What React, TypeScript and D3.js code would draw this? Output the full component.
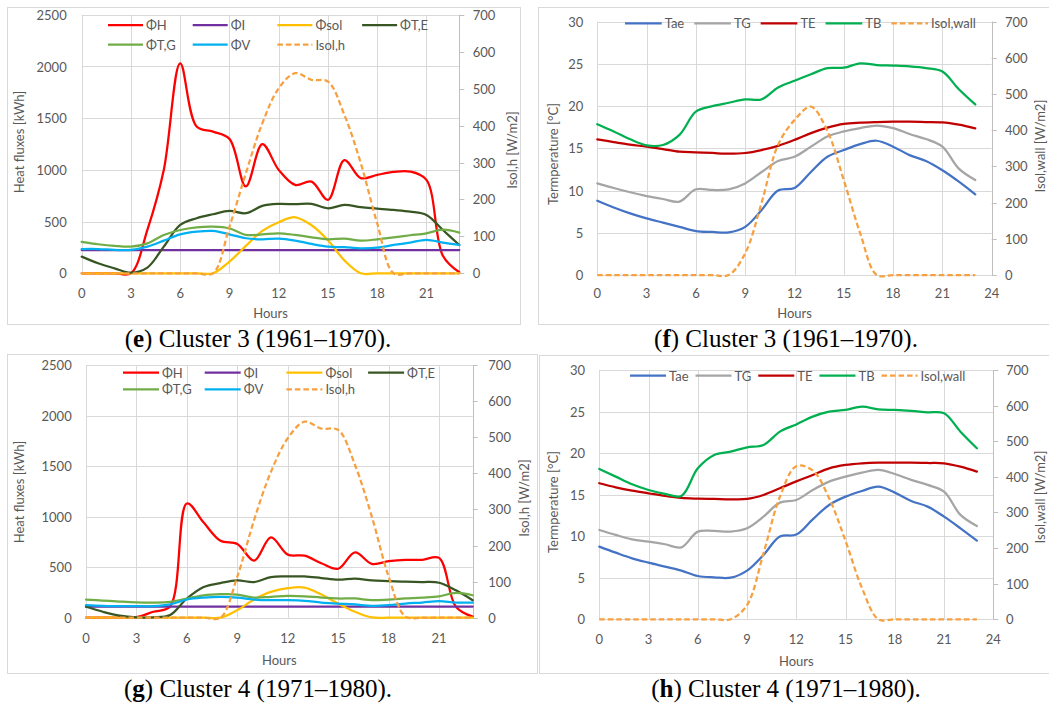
import React from 'react';
import * as d3 from 'd3';

// Hour of day for every series point
const HOURS = [0, 1, 2, 3, 4, 5, 6, 7, 8, 9, 10, 11, 12, 13, 14, 15, 16, 17, 18, 19, 20, 21, 22, 23];

// Cluster 3 (1961–1970): heat fluxes [kWh] and horizontal irradiance [W/m2]
const C3_PHI_H = [0, 0, 0, 0, 420, 1000, 2030, 1420, 1370, 1300, 840, 1250, 1000, 855, 887, 710, 1095, 920, 952, 980, 984, 903, 170, 10];
const C3_PHI_I = [225, 225, 225, 225, 225, 225, 225, 225, 225, 225, 225, 225, 225, 225, 225, 225, 225, 225, 225, 225, 225, 225, 225, 225];
const C3_PHI_SOL = [0, 0, 0, 0, 0, 0, 0, 0, 0, 113, 265, 410, 494, 542, 465, 320, 125, 0, 0, 0, 0, 0, 0, 0];
const C3_PHI_TE = [161, 97, 48, 6, 55, 258, 468, 532, 571, 603, 581, 652, 671, 668, 671, 629, 661, 639, 626, 613, 597, 565, 419, 274];
const C3_PHI_TG = [303, 281, 265, 258, 290, 371, 419, 445, 452, 435, 371, 377, 387, 371, 348, 329, 335, 316, 329, 348, 368, 387, 422, 394];
const C3_PHI_V = [235, 235, 226, 226, 258, 316, 377, 403, 410, 377, 339, 329, 335, 316, 284, 258, 252, 242, 248, 274, 297, 323, 297, 274];
const C3_ISOL_H = [0, 0, 0, 0, 0, 0, 0, 0, 0, 126, 271, 406, 501, 542, 524, 519, 429, 298, 135, 0, 0, 0, 0, 0];

// Cluster 3 (1961–1970): temperatures [°C] and wall irradiance [W/m2]
const C3_TAE = [8.8, 8.0, 7.3, 6.7, 6.2, 5.7, 5.2, 5.1, 5.05, 5.7, 7.7, 10.0, 10.3, 12.2, 14.0, 14.8, 15.5, 15.9, 15.2, 14.2, 13.5, 12.4, 11.05, 9.55];
const C3_TG = [10.85, 10.3, 9.8, 9.35, 9.0, 8.7, 10.15, 10.07, 10.15, 10.85, 12.2, 13.5, 14.0, 15.2, 16.4, 17.0, 17.4, 17.7, 17.4, 16.7, 16.1, 15.2, 12.6, 11.25];
const C3_TE = [16.07, 15.75, 15.44, 15.2, 14.92, 14.6, 14.53, 14.45, 14.37, 14.45, 14.8, 15.3, 16.0, 16.8, 17.45, 17.9, 18.05, 18.12, 18.16, 18.16, 18.12, 18.08, 17.8, 17.37];
const C3_TB = [17.85, 17.0, 16.07, 15.36, 15.4, 16.6, 19.35, 20.0, 20.4, 20.8, 20.8, 22.2, 23.0, 23.77, 24.5, 24.55, 25.07, 24.87, 24.8, 24.7, 24.5, 24.1, 22.0, 20.2];
const C3_ISOL_WALL = [0, 0, 0, 0, 0, 0, 0, 0, 0, 60, 200, 360, 428, 465, 398, 262, 115, 0, 0, 0, 0, 0, 0, 0];

// Cluster 4 (1971–1980): heat fluxes [kWh] and horizontal irradiance [W/m2]
const C4_PHI_H = [0, 0, 0, 5, 59, 110, 1130, 941, 761, 729, 565, 794, 624, 614, 539, 484, 647, 533, 559, 572, 572, 592, 108, 10];
const C4_PHI_I = [110, 110, 110, 110, 110, 110, 110, 110, 110, 110, 110, 110, 110, 110, 110, 110, 110, 110, 110, 110, 110, 110, 110, 110];
const C4_PHI_SOL = [0, 0, 0, 0, 0, 0, 0, 0, 0, 75, 180, 255, 292, 298, 229, 140, 59, 3, 0, 0, 0, 0, 0, 0];
const C4_PHI_TE = [108, 59, 20, 3, 3, 26, 190, 304, 343, 369, 353, 402, 408, 408, 392, 376, 386, 369, 363, 356, 353, 346, 271, 173];
const C4_PHI_TG = [180, 170, 160, 152, 150, 157, 190, 222, 232, 229, 199, 206, 216, 212, 199, 190, 190, 173, 180, 190, 199, 212, 245, 222];
const C4_PHI_V = [124, 118, 114, 114, 114, 131, 180, 199, 206, 199, 180, 173, 173, 167, 150, 140, 131, 118, 124, 140, 150, 163, 150, 150];
const C4_ISOL_H = [0, 0, 0, 0, 0, 0, 0, 0, 0, 114, 271, 404, 497, 543, 524, 520, 423, 280, 114, 3, 0, 0, 0, 0];

// Cluster 4 (1971–1980): temperatures [°C] and wall irradiance [W/m2]
const C4_TAE = [8.74, 8.02, 7.34, 6.82, 6.34, 5.86, 5.21, 5.05, 5.01, 5.86, 7.74, 9.95, 10.2, 12.03, 13.76, 14.76, 15.44, 15.96, 15.24, 14.24, 13.56, 12.35, 10.95, 9.47];
const C4_TG = [10.75, 10.15, 9.63, 9.35, 9.03, 8.66, 10.55, 10.63, 10.55, 10.95, 12.35, 14.04, 14.36, 15.56, 16.57, 17.17, 17.65, 17.97, 17.49, 16.77, 16.17, 15.36, 12.56, 11.23];
const C4_TE = [16.37, 15.88, 15.48, 15.16, 14.84, 14.6, 14.52, 14.48, 14.44, 14.48, 14.96, 15.76, 16.6, 17.37, 18.17, 18.57, 18.77, 18.85, 18.85, 18.85, 18.81, 18.77, 18.37, 17.77];
const C4_TB = [18.09, 17.17, 16.25, 15.56, 15.1, 14.85, 18.17, 19.78, 20.18, 20.7, 20.98, 22.58, 23.45, 24.39, 24.99, 25.19, 25.59, 25.27, 25.19, 25.07, 24.91, 24.79, 22.58, 20.58];
const C4_ISOL_WALL = [0, 0, 0, 0, 0, 0, 0, 0, 0, 40, 185, 344, 430, 418, 340, 220, 88, 0, 0, 0, 0, 0, 0, 0];

// Axis ticks
const HOUR_TICKS_FLUX = [0, 3, 6, 9, 12, 15, 18, 21];
const HOUR_TICKS_TEMP = [0, 3, 6, 9, 12, 15, 18, 21, 24];
const FLUX_TICKS = [0, 500, 1000, 1500, 2000, 2500];
const TEMP_TICKS = [0, 5, 10, 15, 20, 25, 30];
const IRR_TICKS = [0, 100, 200, 300, 400, 500, 600, 700];

const FONT = 'Lato, "Open Sans", "DejaVu Sans", sans-serif';
const TEXT = '#595959';
const GRID = '#d9d9d9';

type Series = { name: string; values: number[]; color: string; axis: 'left' | 'right'; dashed?: boolean };

type Legend = {
  rows: string[][];
  x0: number;
  rowY: number[];
  colW?: number;
  gap?: number;
  lineLen: number;
};

type PanelSpec = {
  box: [number, number, number, number];
  plot: { left: number; top: number; right: number; bottom: number };
  xMax: number;
  xTicks: number[];
  yTicks: number[];
  y2Ticks: number[];
  yTitle: string;
  y2Title: string;
  yTitlePos: [number, number];
  y2TitlePos: [number, number];
  yLabelGap: number;
  y2LabelGap: number;
  xLabelY: number;
  hoursY: number;
  series: Series[];
  legend: Legend;
  caption: { letter: string; rest: string; x: number; y: number };
};

const fluxSeries = (h: number[], i: number[], sol: number[], te: number[], tg: number[], v: number[], isol: number[]): Series[] => [
  { name: 'ΦH', values: h, color: '#ff0000', axis: 'left' },
  { name: 'ΦI', values: i, color: '#7030a0', axis: 'left' },
  { name: 'Φsol', values: sol, color: '#ffc000', axis: 'left' },
  { name: 'ΦT,E', values: te, color: '#375623', axis: 'left' },
  { name: 'ΦT,G', values: tg, color: '#70ad47', axis: 'left' },
  { name: 'ΦV', values: v, color: '#00b0f0', axis: 'left' },
  { name: 'Isol,h', values: isol, color: '#f7a040', axis: 'right', dashed: true },
];

const tempSeries = (tae: number[], tg: number[], te: number[], tb: number[], isol: number[]): Series[] => [
  { name: 'Tae', values: tae, color: '#4472c4', axis: 'left' },
  { name: 'TG', values: tg, color: '#a5a5a5', axis: 'left' },
  { name: 'TE', values: te, color: '#c00000', axis: 'left' },
  { name: 'TB', values: tb, color: '#00b050', axis: 'left' },
  { name: 'Isol,wall', values: isol, color: '#f7a040', axis: 'right', dashed: true },
];

const PANELS: PanelSpec[] = [
  {
    box: [7, 7, 520, 324],
    plot: { left: 81.7, top: 14.8, right: 459.3, bottom: 273.3 },
    xMax: 23,
    xTicks: HOUR_TICKS_FLUX,
    yTicks: FLUX_TICKS,
    y2Ticks: IRR_TICKS,
    yTitle: 'Heat fluxes [kWh]',
    y2Title: 'Isol,h [W/m2]',
    yTitlePos: [19, 142],
    y2TitlePos: [512, 150],
    yLabelGap: 15,
    y2LabelGap: 13.4,
    xLabelY: 298,
    hoursY: 318,
    series: fluxSeries(C3_PHI_H, C3_PHI_I, C3_PHI_SOL, C3_PHI_TE, C3_PHI_TG, C3_PHI_V, C3_ISOL_H),
    legend: { rows: [['ΦH', 'ΦI', 'Φsol', 'ΦT,E'], ['ΦT,G', 'ΦV', 'Isol,h']], x0: 108, rowY: [25, 44.5], colW: 84.7, lineLen: 35 },
    caption: { letter: 'e', rest: ' Cluster 3 (1961–1970).', x: 258, y: 347 },
  },
  {
    box: [538, 7, 1060, 324],
    plot: { left: 597.3, top: 21.7, right: 991.7, bottom: 275 },
    xMax: 24,
    xTicks: HOUR_TICKS_TEMP,
    yTicks: TEMP_TICKS,
    y2Ticks: IRR_TICKS,
    yTitle: 'Termperature [°C]',
    y2Title: 'Isol,wall [W/m2]',
    yTitlePos: [553.3, 154],
    y2TitlePos: [1040, 146],
    yLabelGap: 14,
    y2LabelGap: 13.3,
    xLabelY: 298,
    hoursY: 318,
    series: tempSeries(C3_TAE, C3_TG, C3_TE, C3_TB, C3_ISOL_WALL),
    legend: { rows: [['Tae', 'TG', 'TE', 'TB', 'Isol,wall']], x0: 625, rowY: [23.3], gap: 10, lineLen: 36.7 },
    caption: { letter: 'f', rest: ' Cluster 3 (1961–1970).', x: 786, y: 347 },
  },
  {
    box: [7, 354, 537, 673],
    plot: { left: 86, top: 365, right: 472.7, bottom: 617.7 },
    xMax: 23,
    xTicks: HOUR_TICKS_FLUX,
    yTicks: FLUX_TICKS,
    y2Ticks: IRR_TICKS,
    yTitle: 'Heat fluxes [kWh]',
    y2Title: 'Isol,h [W/m2]',
    yTitlePos: [19.3, 492],
    y2TitlePos: [524, 498],
    yLabelGap: 14.3,
    y2LabelGap: 15.6,
    xLabelY: 643,
    hoursY: 665,
    series: fluxSeries(C4_PHI_H, C4_PHI_I, C4_PHI_SOL, C4_PHI_TE, C4_PHI_TG, C4_PHI_V, C4_ISOL_H),
    legend: { rows: [['ΦH', 'ΦI', 'Φsol', 'ΦT,E'], ['ΦT,G', 'ΦV', 'Isol,h']], x0: 123, rowY: [372.7, 389.3], colW: 81.7, lineLen: 36 },
    caption: { letter: 'g', rest: ' Cluster 4 (1971–1980).', x: 258, y: 697 },
  },
  {
    box: [539, 355, 1060, 673],
    plot: { left: 599.3, top: 370, right: 993.3, bottom: 619.3 },
    xMax: 24,
    xTicks: HOUR_TICKS_TEMP,
    yTicks: TEMP_TICKS,
    y2Ticks: IRR_TICKS,
    yTitle: 'Termperature [°C]',
    y2Title: 'Isol,wall [W/m2]',
    yTitlePos: [553.3, 502],
    y2TitlePos: [1040, 497],
    yLabelGap: 14.3,
    y2LabelGap: 12.7,
    xLabelY: 644,
    hoursY: 666,
    series: tempSeries(C4_TAE, C4_TG, C4_TE, C4_TB, C4_ISOL_WALL),
    legend: { rows: [['Tae', 'TG', 'TE', 'TB', 'Isol,wall']], x0: 630, rowY: [375.5], gap: 7, lineLen: 36 },
    caption: { letter: 'h', rest: ' Cluster 4 (1971–1980).', x: 786, y: 697 },
  },
];

let measureCtx: CanvasRenderingContext2D | null = null;
function textWidth(s: string, font: string): number {
  if (!measureCtx) measureCtx = document.createElement('canvas').getContext('2d');
  if (!measureCtx) return s.length * 7;
  measureCtx.font = font;
  return measureCtx.measureText(s).width;
}

function Panel({ spec }: { spec: PanelSpec }) {
  const { plot } = spec;
  const x = d3.scaleLinear().domain([0, spec.xMax]).range([plot.left, plot.right]);
  const yMax = spec.yTicks[spec.yTicks.length - 1];
  const y2Max = spec.y2Ticks[spec.y2Ticks.length - 1];
  const y = d3.scaleLinear().domain([0, yMax]).range([plot.bottom, plot.top]);
  const y2 = d3.scaleLinear().domain([0, y2Max]).range([plot.bottom, plot.top]);

  const lineFor = (s: Series) =>
    d3
      .line<number>()
      .x((_, i) => x(HOURS[i]))
      .y((v) => (s.axis === 'left' ? y(v) : y2(v)))
      .curve(d3.curveCatmullRom.alpha(0.5))(s.values) || '';

  const byName = new Map(spec.series.map((s) => [s.name, s]));
  const legendFont = `13px ${FONT}`;

  const legendItems: { s: Series; lx: number; ly: number }[] = [];
  spec.legend.rows.forEach((row, r) => {
    let cursor = spec.legend.x0;
    row.forEach((name, c) => {
      const s = byName.get(name)!;
      const lx = spec.legend.colW != null ? spec.legend.x0 + c * spec.legend.colW : cursor;
      legendItems.push({ s, lx, ly: spec.legend.rowY[r] });
      cursor = lx + spec.legend.lineLen + 3 + textWidth(name, legendFont) + (spec.legend.gap ?? 0);
    });
  });

  const [bx0, by0, bx1, by1] = spec.box;

  return (
    <g>
      <rect x={bx0 + 0.5} y={by0 + 0.5} width={bx1 - bx0} height={by1 - by0} fill="#ffffff" stroke={GRID} strokeWidth={1} />
      {/* gridlines */}
      {spec.yTicks.map((t) => (
        <line key={`hg${t}`} x1={plot.left} x2={plot.right} y1={Math.round(y(t)) + 0.5} y2={Math.round(y(t)) + 0.5} stroke={GRID} strokeWidth={1} />
      ))}
      {spec.xTicks.map((t) => (
        <line key={`vg${t}`} x1={Math.round(x(t)) + 0.5} x2={Math.round(x(t)) + 0.5} y1={plot.top} y2={plot.bottom} stroke={GRID} strokeWidth={1} />
      ))}
      {/* secondary axis */}
      <line x1={Math.round(plot.right) + 0.5} x2={Math.round(plot.right) + 0.5} y1={plot.top} y2={plot.bottom} stroke="#bfbfbf" strokeWidth={1} />
      {spec.y2Ticks.map((t) => (
        <line key={`rt${t}`} x1={plot.right} x2={plot.right + 5} y1={Math.round(y2(t)) + 0.5} y2={Math.round(y2(t)) + 0.5} stroke="#bfbfbf" strokeWidth={1} />
      ))}
      {/* series */}
      {spec.series.map((s) => (
        <path
          key={s.name}
          d={lineFor(s)}
          fill="none"
          stroke={s.color}
          strokeWidth={2.25}
          strokeLinejoin="round"
          strokeLinecap={s.dashed ? 'butt' : 'round'}
          strokeDasharray={s.dashed ? '5.5 3' : undefined}
        />
      ))}
      {/* tick labels */}
      <g fontFamily={FONT} fontSize={13} fill={TEXT}>
        {spec.yTicks.map((t) => (
          <text key={`yl${t}`} x={plot.left - spec.yLabelGap} y={y(t)} textAnchor="end" dominantBaseline="central">
            {t}
          </text>
        ))}
        {spec.y2Ticks.map((t) => (
          <text key={`y2l${t}`} x={plot.right + spec.y2LabelGap} y={y2(t)} textAnchor="start" dominantBaseline="central">
            {t}
          </text>
        ))}
        {spec.xTicks.map((t) => (
          <text key={`xl${t}`} x={x(t)} y={spec.xLabelY} textAnchor="middle">
            {t}
          </text>
        ))}
        <text x={(plot.left + plot.right) / 2} y={spec.hoursY} textAnchor="middle">
          Hours
        </text>
        <text
          transform={`translate(${spec.yTitlePos[0]},${spec.yTitlePos[1]}) rotate(-90)`}
          textAnchor="middle"
          dominantBaseline="central"
        >
          {spec.yTitle}
        </text>
        <text
          transform={`translate(${spec.y2TitlePos[0]},${spec.y2TitlePos[1]}) rotate(-90)`}
          textAnchor="middle"
          dominantBaseline="central"
        >
          {spec.y2Title}
        </text>
      </g>
      {/* legend */}
      <g fontFamily={FONT} fontSize={13} fill={TEXT}>
        {legendItems.map(({ s, lx, ly }) => (
          <g key={`lg${s.name}`}>
            <line
              x1={lx}
              x2={lx + spec.legend.lineLen}
              y1={ly}
              y2={ly}
              stroke={s.color}
              strokeWidth={2.25}
              strokeDasharray={s.dashed ? '5.5 3' : undefined}
            />
            <text x={lx + spec.legend.lineLen + 3} y={ly} dominantBaseline="central">
              {s.name}
            </text>
          </g>
        ))}
      </g>
      {/* caption */}
      <text
        x={spec.caption.x}
        y={spec.caption.y}
        textAnchor="middle"
        fontFamily='"Liberation Serif", "Times New Roman", serif'
        fontSize={25}
        fill="#000000"
      >
        (<tspan fontWeight="bold">{spec.caption.letter}</tspan>){spec.caption.rest}
      </text>
    </g>
  );
}

export default function App() {
  return (
    <svg
      width={1049}
      height={706}
      viewBox="0 0 1049 706"
      style={{ position: 'absolute', left: 0, top: 0, background: '#ffffff' }}
    >
      <rect x={0} y={0} width={1049} height={706} fill="#ffffff" />
      {PANELS.map((p, i) => (
        <Panel key={i} spec={p} />
      ))}
    </svg>
  );
}
